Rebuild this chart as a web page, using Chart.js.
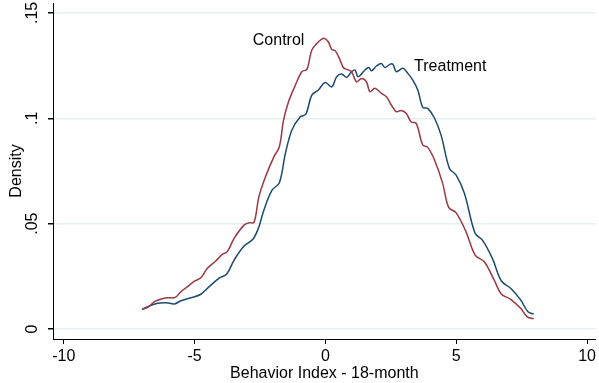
<!DOCTYPE html>
<html>
<head>
<meta charset="utf-8">
<script src="https://cdn.jsdelivr.net/npm/chart.js@4.4.1/dist/chart.umd.min.js"></script>
<style>
  html, body { margin: 0; padding: 0; background: #fff; }
  #wrap { width: 599px; height: 383px; position: relative; }
</style>
</head>
<body>
<div id="wrap"><canvas id="grafico" width="599" height="383"></canvas></div>
<script>
// ======= DADOS =======
// Control density (kernel estimate)
const controlX = [-7.01, -6.79, -6.53, -6.28, -6.03, -5.74, -5.52, -5.27, -4.99, -4.76,
  -4.51, -4.19, -3.94, -3.75, -3.49, -3.11, -2.92, -2.73, -2.54, -2.29,
  -1.97, -1.76, -1.60, -1.41, -1.15, -0.90, -0.71, -0.52, -0.33, -0.14,
  -0.04, 0.11, 0.24, 0.38, 0.56, 0.68, 0.81, 1.00, 1.19, 1.38,
  1.57, 1.70, 1.89, 2.14, 2.33, 2.52, 2.71, 2.90, 3.09, 3.28,
  3.47, 3.72, 3.91, 4.17, 4.48, 4.71, 4.99, 5.37, 5.72, 6.07,
  6.45, 6.72, 7.08, 7.46, 7.71, 7.96];
const controlY = [0.0093, 0.0103, 0.0130, 0.0142, 0.0148, 0.0150, 0.0177, 0.0201, 0.0228, 0.0243,
  0.0288, 0.0323, 0.0354, 0.0367, 0.0430, 0.0493, 0.0504, 0.0506, 0.0628, 0.0722,
  0.0817, 0.0865, 0.0991, 0.1078, 0.1157, 0.1221, 0.1232, 0.1324, 0.1355, 0.1376,
  0.1379, 0.1363, 0.1327, 0.1320, 0.1276, 0.1241, 0.1232, 0.1221, 0.1173, 0.1189,
  0.1173, 0.1126, 0.1142, 0.1118, 0.1102, 0.1063, 0.1031, 0.1037, 0.1023, 0.0982,
  0.0976, 0.0873, 0.0862, 0.0802, 0.0691, 0.0577, 0.0552, 0.0462, 0.0351, 0.0319,
  0.0232, 0.0166, 0.0141, 0.0098, 0.0058, 0.0049];

// Treatment density
const treatX = [-7.01, -6.79, -6.41, -6.09, -5.77, -5.52, -5.14, -4.76, -4.44, -4.06,
  -3.77, -3.49, -3.11, -2.77, -2.54, -2.35, -2.04, -1.76, -1.53, -1.28,
  -0.96, -0.75, -0.52, -0.27, -0.01, 0.24, 0.43, 0.62, 0.81, 1.00,
  1.13, 1.25, 1.51, 1.66, 1.76, 1.95, 2.14, 2.27, 2.46, 2.58,
  2.71, 2.96, 3.15, 3.34, 3.53, 3.72, 3.91, 4.17, 4.42, 4.74,
  4.99, 5.31, 5.72, 6.00, 6.38, 6.72, 7.08, 7.46, 7.74, 7.96];
const treatY = [0.0093, 0.0106, 0.0122, 0.0125, 0.0119, 0.0134, 0.0148, 0.0165, 0.0201, 0.0241,
  0.0261, 0.0327, 0.0394, 0.0426, 0.0485, 0.0565, 0.0659, 0.0694, 0.0833, 0.0944,
  0.1007, 0.1019, 0.1110, 0.1134, 0.1170, 0.1149, 0.1197, 0.1210, 0.1194, 0.1221,
  0.1229, 0.1197, 0.1229, 0.1241, 0.1225, 0.1248, 0.1260, 0.1241, 0.1256, 0.1256,
  0.1221, 0.1237, 0.1213, 0.1181, 0.1134, 0.1052, 0.1047, 0.1000, 0.0920, 0.0762,
  0.0731, 0.0644, 0.0454, 0.0422, 0.0335, 0.0229, 0.0193, 0.0138, 0.0082, 0.0071];

const xTicks = [-10, -5, 0, 5, 10];
const yTicks = [0, 0.05, 0.1, 0.15];
const yTickLabels = ["0", ".05", ".1", ".15"];

// rotulos das curvas (texto, x, y em unidades dos dados)
const curveLabels = [
  { text: "Control", x: -1.79, y: 0.1369 },
  { text: "Treatment", x: 4.77, y: 0.1243 },
];

const FONTE = "'Liberation Sans', Arial, Helvetica, sans-serif";
const VERMELHO = "#9a3843";
const AZUL = "#1b4a72";

function pontos(xs, ys) {
  return xs.map((x, i) => ({ x: x, y: ys[i] }));
}

// plugin: rotulos do eixo y girados e nomes das curvas
const textosExtras = {
  id: "textosExtras",
  afterDraw(chart) {
    const ctx = chart.ctx;
    const sx = chart.scales.x;
    const sy = chart.scales.y;
    ctx.save();
    ctx.fillStyle = "#000";
    ctx.font = "16px " + FONTE;
    ctx.textAlign = "center";
    ctx.textBaseline = "middle";
    yTicks.forEach((v, i) => {
      const py = sy.getPixelForValue(v);
      ctx.save();
      ctx.translate(sx.left - 20, py);
      ctx.rotate(-Math.PI / 2);
      ctx.fillText(yTickLabels[i], 0, 0);
      ctx.restore();
    });
    curveLabels.forEach((l) => {
      ctx.fillText(l.text, sx.getPixelForValue(l.x), sy.getPixelForValue(l.y));
    });
    ctx.restore();
  },
};

new Chart(document.getElementById("grafico"), {
  type: "line",
  data: {
    datasets: [
      {
        label: "Control",
        data: pontos(controlX, controlY),
        borderColor: VERMELHO,
        borderWidth: 1.5,
        pointRadius: 0,
        tension: 0.35,
        fill: false,
      },
      {
        label: "Treatment",
        data: pontos(treatX, treatY),
        borderColor: AZUL,
        borderWidth: 1.5,
        pointRadius: 0,
        tension: 0.35,
        fill: false,
      },
    ],
  },
  options: {
    responsive: false,
    animation: false,
    devicePixelRatio: 1,
    layout: { padding: { top: 3, right: 0, bottom: 0, left: 0 } },
    plugins: {
      legend: { display: false },
      tooltip: { enabled: false },
    },
    scales: {
      x: {
        type: "linear",
        min: -10.41,
        max: 10.33,
        afterBuildTicks: (s) => { s.ticks = xTicks.map((v) => ({ value: v })); },
        afterFit: (s) => { s.height = 44; },
        border: { display: true, color: "#000", width: 1 },
        grid: { drawOnChartArea: false, drawTicks: true, tickLength: 5, tickColor: "#000" },
        ticks: {
          color: "#000",
          font: { family: FONTE, size: 16 },
          padding: 3,
          maxRotation: 0,
          autoSkip: false,
        },
        title: {
          display: true,
          text: "Behavior Index - 18-month",
          color: "#000",
          font: { family: FONTE, size: 16 },
          padding: { top: 0, bottom: 0 },
        },
      },
      y: {
        type: "linear",
        min: -0.00474,
        max: 0.1547,
        afterBuildTicks: (s) => { s.ticks = yTicks.map((v) => ({ value: v })); },
        afterFit: (s) => { s.width = 53; },
        border: { display: true, color: "#000", width: 1 },
        grid: { color: "#e6eff0", lineWidth: 1.5, drawTicks: true, tickLength: 5, tickColor: "#000" },
        ticks: { display: false },
        title: {
          display: true,
          text: "Density",
          color: "#000",
          font: { family: FONTE, size: 16 },
          padding: { top: 7, bottom: 0 },
        },
      },
    },
  },
  plugins: [textosExtras],
});
</script>
</body>
</html>
